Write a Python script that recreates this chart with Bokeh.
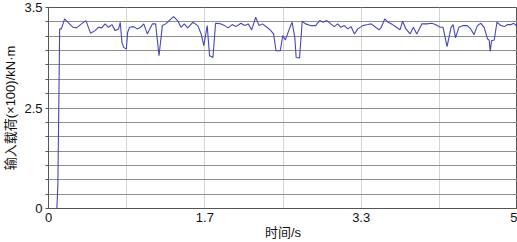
from bokeh.plotting import figure
from bokeh.models import Range1d, FixedTicker, CustomJSTickFormatter
from bokeh.embed import file_html
from bokeh.resources import INLINE

# time (s) and input load (x100 kN·m)
time_s = [0.0, 0.089, 0.100, 0.111, 0.119, 0.137, 0.172, 0.208, 0.262, 0.298,
          0.352, 0.399, 0.449, 0.496, 0.531, 0.568, 0.603, 0.639, 0.676, 0.711,
          0.747, 0.765, 0.783, 0.801, 0.830, 0.844, 0.865, 0.908, 0.945, 0.981,
          1.016, 1.053, 1.107, 1.142, 1.178, 1.214, 1.250, 1.286, 1.333, 1.376,
          1.412, 1.447, 1.484, 1.538, 1.592, 1.627, 1.656, 1.692, 1.717, 1.753,
          1.781, 1.824, 1.878, 1.915, 1.958, 1.997, 2.051, 2.094, 2.130, 2.166,
          2.209, 2.245, 2.281, 2.328, 2.363, 2.400, 2.425, 2.471, 2.497, 2.525,
          2.568, 2.597, 2.626, 2.640, 2.676, 2.705, 2.740, 2.794, 2.848, 2.891,
          2.928, 2.967, 3.010, 3.046, 3.082, 3.117, 3.154, 3.190, 3.225, 3.262,
          3.297, 3.351, 3.405, 3.441, 3.488, 3.524, 3.548, 3.585, 3.621, 3.667,
          3.710, 3.747, 3.775, 3.811, 3.855, 3.890, 3.926, 3.980, 4.033, 4.087,
          4.124, 4.178, 4.206, 4.249, 4.292, 4.314, 4.339, 4.375, 4.421, 4.464,
          4.501, 4.537, 4.572, 4.609, 4.644, 4.680, 4.698, 4.709, 4.723, 4.752,
          4.781, 4.824, 4.860, 4.895, 4.932, 4.960, 4.986, 5.0]
load = [0.0, 0.0, 0.6, 2.64, 3.287, 3.287, 3.387, 3.353, 3.303, 3.297,
        3.337, 3.37, 3.243, 3.27, 3.303, 3.297, 3.337, 3.303, 3.33, 3.27,
        3.287, 3.353, 3.153, 3.103, 3.087, 3.253, 3.303, 3.31, 3.287, 3.303,
        3.337, 3.237, 3.337, 3.337, 3.02, 3.32, 3.337, 3.37, 3.41, 3.37,
        3.303, 3.337, 3.297, 3.353, 3.32, 3.237, 3.12, 3.32, 3.02, 3.003,
        3.343, 3.34, 3.32, 3.297, 3.33, 3.31, 3.343, 3.32, 3.337, 3.277,
        3.403, 3.32, 3.337, 3.303, 3.277, 3.237, 3.07, 3.07, 3.22, 3.177,
        3.287, 3.353, 3.203, 3.003, 2.997, 3.363, 3.337, 3.32, 3.32, 3.37,
        3.353, 3.37, 3.337, 3.31, 3.337, 3.303, 3.32, 3.287, 3.31, 3.237,
        3.287, 3.32, 3.33, 3.337, 3.303, 3.277, 3.303, 3.387, 3.353, 3.33,
        3.303, 3.277, 3.363, 3.287, 3.237, 3.303, 3.237, 3.337, 3.337, 3.343,
        3.33, 3.303, 3.303, 3.11, 3.303, 3.33, 3.197, 3.303, 3.32, 3.32,
        3.287, 3.23, 3.32, 3.343, 3.303, 3.187, 3.177, 3.063, 3.17, 3.177,
        3.353, 3.32, 3.31, 3.33, 3.33, 3.343, 3.32, 3.337]

x_tick_labels = ["0", "1.7", "3.3", "5"]
y_tick_values = [0.0, 2.5, 3.5]
y_tick_labels = ["0", "2.5", "3.5"]


# The y axis is broken: 0..2.5 and 2.5..3.5 take the same height (7 grid steps each)
def to_axis(v):
    return v / 2.5 * 7 if v <= 2.5 else 7 + (v - 2.5) * 7


y_disp = [to_axis(v) for v in load]

FONT = "'Liberation Sans', 'Noto Sans CJK SC'"

p = figure(width=517, height=242, output_backend="svg", toolbar_location=None,
           x_range=Range1d(0, 5), y_range=Range1d(0, 14),
           min_border_left=41, min_border_right=0, min_border_top=7,
           min_border_bottom=30)

p.line(time_s, y_disp, line_color="#4646b8", line_width=1.1)

# x axis
xmaj = [i * 5 / 3 for i in range(4)]
xmin = [i * 5 / 6 for i in range(7) if i % 2 == 1]
p.xaxis.ticker = FixedTicker(ticks=xmaj, minor_ticks=xmin)
p.xaxis.formatter = CustomJSTickFormatter(
    args=dict(labels=x_tick_labels),
    code="return labels[Math.round(tick * 3 / 5)];")
p.xaxis.major_tick_out = 0
p.xaxis.major_tick_in = 0
p.xaxis.minor_tick_out = 0
p.xaxis.minor_tick_in = 0
p.xaxis.axis_label = "时间/s"
p.xaxis.major_label_standoff = 4
p.xaxis.axis_label_standoff = 0

# y axis
ymaj = [to_axis(v) for v in y_tick_values]
ymin = [k for k in range(15) if k not in ymaj]
p.yaxis.ticker = FixedTicker(ticks=ymaj, minor_ticks=ymin)
p.yaxis.formatter = CustomJSTickFormatter(
    args=dict(labels=y_tick_labels),
    code="return labels[Math.round(tick / 7)];")
p.yaxis.major_tick_out = 3
p.yaxis.major_tick_in = 0
p.yaxis.minor_tick_out = 3
p.yaxis.minor_tick_in = 0
p.yaxis.axis_label = "输入载荷(×100)/kN·m"
p.yaxis.major_label_standoff = 3
p.yaxis.axis_label_standoff = 3

for ax in (p.xaxis, p.yaxis):
    ax.axis_line_color = "#555555"
    ax.major_tick_line_color = "#555555"
    ax.minor_tick_line_color = "#555555"
    ax.major_label_text_font = FONT
    ax.major_label_text_font_size = "13px"
    ax.major_label_text_color = "#111111"
    ax.axis_label_text_font = FONT
    ax.axis_label_text_font_size = "13px"
    ax.axis_label_text_font_style = "normal"
    ax.axis_label_text_color = "#111111"

p.xgrid.grid_line_color = "#d4d4d4"
p.xgrid.minor_grid_line_color = "#d4d4d4"
p.ygrid.grid_line_color = "#8f8f8f"
p.ygrid.minor_grid_line_color = "#8f8f8f"

p.outline_line_color = "#555555"
p.outline_line_width = 1
p.background_fill_color = "white"
p.border_fill_color = "white"

open("out.html", "w").write(file_html(p, INLINE))
